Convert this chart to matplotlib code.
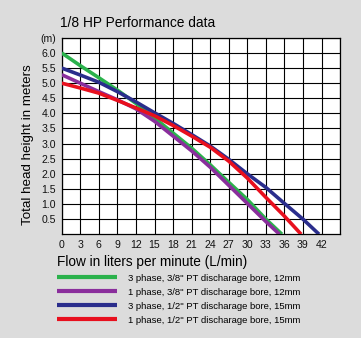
import matplotlib
matplotlib.use("Agg")
import matplotlib.pyplot as plt

plt.rcParams["font.family"] = ["Liberation Sans", "DejaVu Sans"]

# flow (L/min) and head (m) readings for each pump variant
flow_g = [0, 3, 6, 9, 12, 15, 18, 21, 24, 27, 30, 33, 35.6]
head_g = [6.0, 5.58, 5.18, 4.77, 4.33, 3.85, 3.35, 2.85, 2.3, 1.72, 1.15, 0.5, 0.0]

flow_p = [0, 3, 6, 9, 12, 15, 18, 21, 24, 27, 30, 33, 35.2]
head_p = [5.28, 5.0, 4.72, 4.45, 4.15, 3.74, 3.25, 2.76, 2.22, 1.62, 1.02, 0.42, 0.0]

flow_b = [0, 3, 6, 9, 12, 15, 18, 21, 24, 27, 30, 33, 36, 39, 41.6]
head_b = [5.5, 5.27, 5.03, 4.72, 4.38, 4.02, 3.67, 3.3, 2.92, 2.48, 2.0, 1.55, 1.02, 0.5, 0.0]

flow_r = [0, 3, 6, 9, 12, 15, 18, 21, 24, 27, 30, 33, 36, 38.7]
head_r = [5.0, 4.84, 4.67, 4.43, 4.18, 3.92, 3.6, 3.25, 2.88, 2.42, 1.86, 1.22, 0.6, 0.0]

labels = [
    '3 phase, 3/8" PT discharage bore, 12mm',
    '1 phase, 3/8" PT discharage bore, 12mm',
    '3 phase, 1/2" PT discharage bore, 15mm',
    '1 phase, 1/2" PT discharage bore, 15mm',
]
colors = ["#2bb24c", "#8a2e9c", "#2a2d8c", "#e8101e"]

x_ticks = list(range(0, 45, 3))
y_ticks = [0.5, 1.0, 1.5, 2.0, 2.5, 3.0, 3.5, 4.0, 4.5, 5.0, 5.5, 6.0, 6.5]
y_ticklabels = [f"{v:.1f}" for v in y_ticks[:-1]] + ["(m)"]

bg = "#dcdcdc"
fig = plt.figure(figsize=(3.61, 3.38), dpi=100, facecolor=bg)
ax = fig.add_axes([0.171, 0.307, 0.771, 0.581])
ax.set_facecolor("white")

series = [(flow_g, head_g), (flow_p, head_p), (flow_b, head_b), (flow_r, head_r)]
for (fx, hy), c, lab in zip(series, colors, labels):
    ax.plot(fx, hy, color=c, lw=2.6, solid_capstyle="butt",
            solid_joinstyle="round", label=lab, zorder=3)

ax.set_xlim(0, 45)
ax.set_ylim(0, 6.5)
ax.set_xticks(list(range(0, 46, 3)))
ax.set_xticklabels([str(v) for v in x_ticks] + [""])
ax.set_yticks(y_ticks)
ax.set_yticklabels(y_ticklabels)
ax.grid(True, color="black", lw=0.8, zorder=1)
ax.tick_params(length=0, labelsize=7.6, pad=4, labelcolor="#111111")
for s in ax.spines.values():
    s.set_linewidth(0.9)

fig.text(0.166, 0.932, "1/8 HP Performance data", fontsize=9.9, va="center")
fig.text(0.158, 0.226, "Flow in liters per minute (L/min)", fontsize=9.8, va="center")
fig.text(0.078, 0.571, "Total head height in meters", fontsize=9.6,
         rotation=90, va="center", ha="center")

leg = ax.legend(loc="upper left", bbox_to_anchor=(0.158, 0.19),
                bbox_transform=fig.transFigure, frameon=False, fontsize=6.8,
                handlelength=6.4, handletextpad=1.1, labelspacing=0.52,
                borderpad=0, borderaxespad=0)
for h in leg.get_lines():
    h.set_linewidth(3.0)

fig.savefig("out.png", dpi=100, facecolor=bg)
